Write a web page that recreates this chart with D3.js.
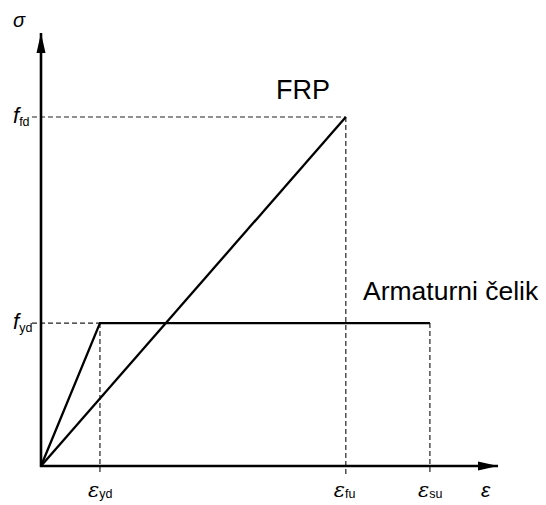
<!DOCTYPE html>
<html>
<head>
<meta charset="utf-8">
<script src="https://cdn.jsdelivr.net/npm/d3@7"></script>
<style>
  body { margin: 0; background: #fff; }
  text { font-family: "Liberation Sans", Arial, sans-serif; fill: #000; }
</style>
</head>
<body>
<svg id="chart" width="546" height="505"></svg>
<script>
// strain / stress values (arbitrary units)
const strainKeys = ["yd", "fu", "su"];
const strainVals = [1.29, 6.67, 8.51];
const stressKeys = ["fd", "yd"];
const stressVals = [8.06, 3.3];
// curves: steel (bilinear) and FRP (linear to failure)
const steelEps = [0, 1.29, 8.51];
const steelSig = [0, 3.3, 3.3];
const frpEps = [0, 6.67];
const frpSig = [0, 8.06];
const curveNames = ["Armaturni čelik", "FRP"];

const svg = d3.select("#chart");
const x = d3.scaleLinear().domain([0, 10]).range([41, 498]);
const y = d3.scaleLinear().domain([0, 10]).range([466, 33]);

// arrow heads (long and narrow)
svg.append("defs").append("marker")
    .attr("id", "arr")
    .attr("viewBox", "0 -5 20 10")
    .attr("refX", 20).attr("refY", 0)
    .attr("markerWidth", 20).attr("markerHeight", 10)
    .attr("markerUnits", "userSpaceOnUse")
    .attr("orient", "auto")
  .append("path").attr("d", "M0,-4.5L20,0L0,4.5Z").attr("fill", "#000");

// dashed guides
const g = svg.append("g");
const dashed = (x1, y1, x2, y2) => g.append("line")
    .attr("x1", x1).attr("y1", y1).attr("x2", x2).attr("y2", y2)
    .attr("stroke", "#222").attr("stroke-width", 1.2)
    .attr("stroke-dasharray", "5,3");

dashed(x(0) - 9, y(frpSig[1]), x(frpEps[1]), y(frpSig[1]));
dashed(x(frpEps[1]), y(frpSig[1]), x(frpEps[1]), y(0) + 9);
dashed(x(0) - 9, y(steelSig[1]), x(steelEps[1]), y(steelSig[1]));
dashed(x(steelEps[1]), y(steelSig[1]), x(steelEps[1]), y(0) + 9);
dashed(x(steelEps[2]), y(steelSig[2]), x(steelEps[2]), y(0) + 9);

// axes
svg.append("line").attr("x1", x(0) - 1).attr("y1", y(0)).attr("x2", x(10)).attr("y2", y(0))
    .attr("stroke", "#000").attr("stroke-width", 2.6).attr("marker-end", "url(#arr)");
svg.append("line").attr("x1", x(0)).attr("y1", y(0) + 1).attr("x2", x(0)).attr("y2", y(10))
    .attr("stroke", "#000").attr("stroke-width", 2.6).attr("marker-end", "url(#arr)");

// curves
const line = d3.line().x(d => x(d[0])).y(d => y(d[1]));
svg.append("path").datum(d3.zip(steelEps, steelSig)).attr("d", line)
    .attr("fill", "none").attr("stroke", "#000").attr("stroke-width", 2.3);
svg.append("path").datum(d3.zip(frpEps, frpSig)).attr("d", line)
    .attr("fill", "none").attr("stroke", "#000").attr("stroke-width", 2.3);

// tick labels on strain axis
strainKeys.forEach((k, i) => {
  const t = svg.append("text").attr("x", x(strainVals[i]) - 12).attr("y", 497);
  t.append("tspan").attr("font-style", "italic").attr("font-size", 21).attr("font-family", "DejaVu Serif").text("ε");
  t.append("tspan").attr("font-size", 12.5).attr("dy", 1).text(k);
});
// tick labels on stress axis
stressKeys.forEach((k, i) => {
  const t = svg.append("text").attr("x", 13).attr("y", y(stressVals[i]) + 6);
  t.append("tspan").attr("font-style", "italic").attr("font-size", 22).text("f");
  t.append("tspan").attr("font-size", 12.5).attr("dy", 3).text(k);
});

// axis titles
svg.append("text").attr("x", 13).attr("y", 27).attr("font-style", "italic")
    .attr("font-size", 20).attr("font-family", "DejaVu Serif").text("σ");
svg.append("text").attr("x", 481).attr("y", 497).attr("font-style", "italic")
    .attr("font-size", 21).attr("font-family", "DejaVu Serif").text("ε");

// curve names
svg.append("text").attr("x", 276).attr("y", 99).attr("font-size", 27).text(curveNames[1]);
svg.append("text").attr("x", 363).attr("y", 300).attr("font-size", 26.5).text(curveNames[0]);
</script>
</body>
</html>
